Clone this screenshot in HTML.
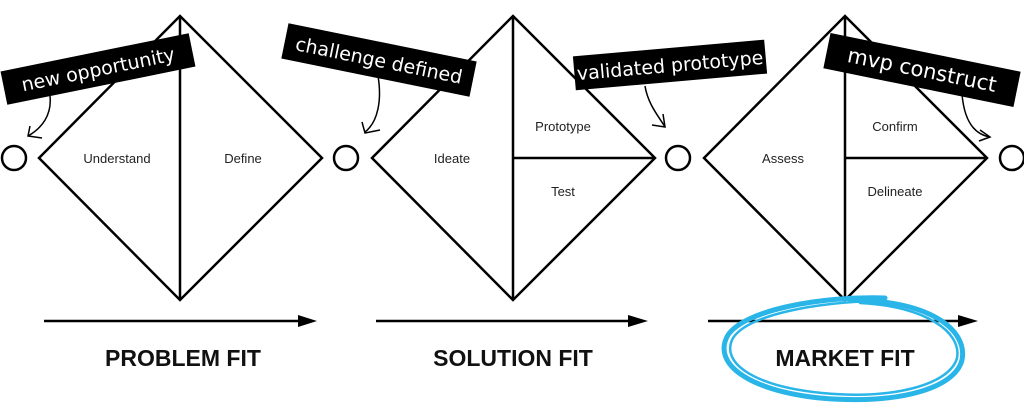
<!DOCTYPE html>
<html><head><meta charset="utf-8"><style>
html,body{margin:0;padding:0;background:#fff;}
svg{display:block;}
.t{font-family:"Liberation Sans",sans-serif;font-size:13px;fill:#222;text-anchor:middle;}
.h{font-family:"Liberation Sans",sans-serif;font-size:23px;font-weight:bold;fill:#111;text-anchor:middle;}
.l{font-family:"DejaVu Sans","Liberation Sans",sans-serif;font-size:19px;fill:#fff;text-anchor:middle;}
</style></head><body>
<svg width="1024" height="419" viewBox="0 0 1024 419" xmlns="http://www.w3.org/2000/svg">
<defs><marker id="ah" markerWidth="10" markerHeight="10" refX="9" refY="5" orient="auto" markerUnits="userSpaceOnUse"><path d="M0,0 L10,5 L0,10 z" fill="#000"/></marker></defs>
<g fill="none" stroke="#000" stroke-width="2.5">
<path d="M180,16 L322,158 L180,300 L39,158 Z M180,16 V300"/>
<path d="M513,16 L655,158 L513,300 L372,158 Z M513,16 V300 M513,158 H655"/>
<path d="M845,16 L987,158 L845,300 L704,158 Z M845,16 V300 M845,158 H987"/>
<circle cx="14" cy="158" r="12"/>
<circle cx="346" cy="158" r="12"/>
<circle cx="678" cy="158" r="12"/>
<circle cx="1012" cy="158" r="12"/>
</g>
<g stroke="#000" stroke-width="2.5">
<line x1="44" y1="321" x2="300" y2="321"/><path d="M298,315 L317,321 L298,327 z" stroke="none" fill="#000"/>
<line x1="376" y1="321" x2="630" y2="321"/><path d="M628,315 L648,321 L628,327 z" stroke="none" fill="#000"/>
<line x1="708" y1="321" x2="960" y2="321"/><path d="M958,315 L978,321 L958,327 z" stroke="none" fill="#000"/>
</g>
<g fill="none" stroke="#000" stroke-width="1.5">
<path d="M50,96 C52,115 42,128 28,136"/><path d="M30,126 L28,136 L42,138"/>
<path d="M378,76 C382,100 378,122 365,132"/><path d="M362,122 L365,133 L380,130"/>
<path d="M645,86 C648,105 660,118 665,127"/><path d="M652,125 L665,127 L663,114"/>
<path d="M962,94 C964,118 972,134 990,137"/><path d="M980,130 L990,137 L979,141"/>
</g>
<g transform="translate(98,69) rotate(-11.5)"><rect x="-96" y="-17" width="192" height="34" fill="#000"/><text class="l" y="7">new opportunity</text></g>
<g transform="translate(379,60) rotate(11.5)"><rect x="-96" y="-18" width="192" height="36" fill="#000"/><text class="l" y="7">challenge defined</text></g>
<g transform="translate(670,65) rotate(-5)"><rect x="-96" y="-17" width="192" height="34" fill="#000"/><text class="l" y="7">validated prototype</text></g>
<g transform="translate(922,70) rotate(11.5)"><rect x="-97" y="-18" width="194" height="36" fill="#000"/><text class="l" y="7" style="font-size:21px">mvp construct</text></g>
<text class="t" x="117" y="163">Understand</text>
<text class="t" x="243" y="163">Define</text>
<text class="t" x="452" y="163">Ideate</text>
<text class="t" x="563" y="131">Prototype</text>
<text class="t" x="563" y="196">Test</text>
<text class="t" x="783" y="163">Assess</text>
<text class="t" x="895" y="131">Confirm</text>
<text class="t" x="895" y="196">Delineate</text>
<text class="h" x="183" y="366">PROBLEM FIT</text>
<text class="h" x="513" y="366">SOLUTION FIT</text>
<text class="h" x="845" y="366">MARKET FIT</text>
<g fill="none" stroke="#29b5e8" stroke-linecap="round">
<path d="M885,298 C820,296 745,310 728,335 C712,362 745,390 820,398 C900,405 955,388 962,360 C968,330 930,300 850,300" stroke-width="5"/>
<path d="M880,301 C815,302 748,315 733,338 C720,362 752,386 822,393 C895,400 950,384 957,358 C962,332 925,306 860,303" stroke-width="2.5"/>
</g>
</svg>
</body></html>
